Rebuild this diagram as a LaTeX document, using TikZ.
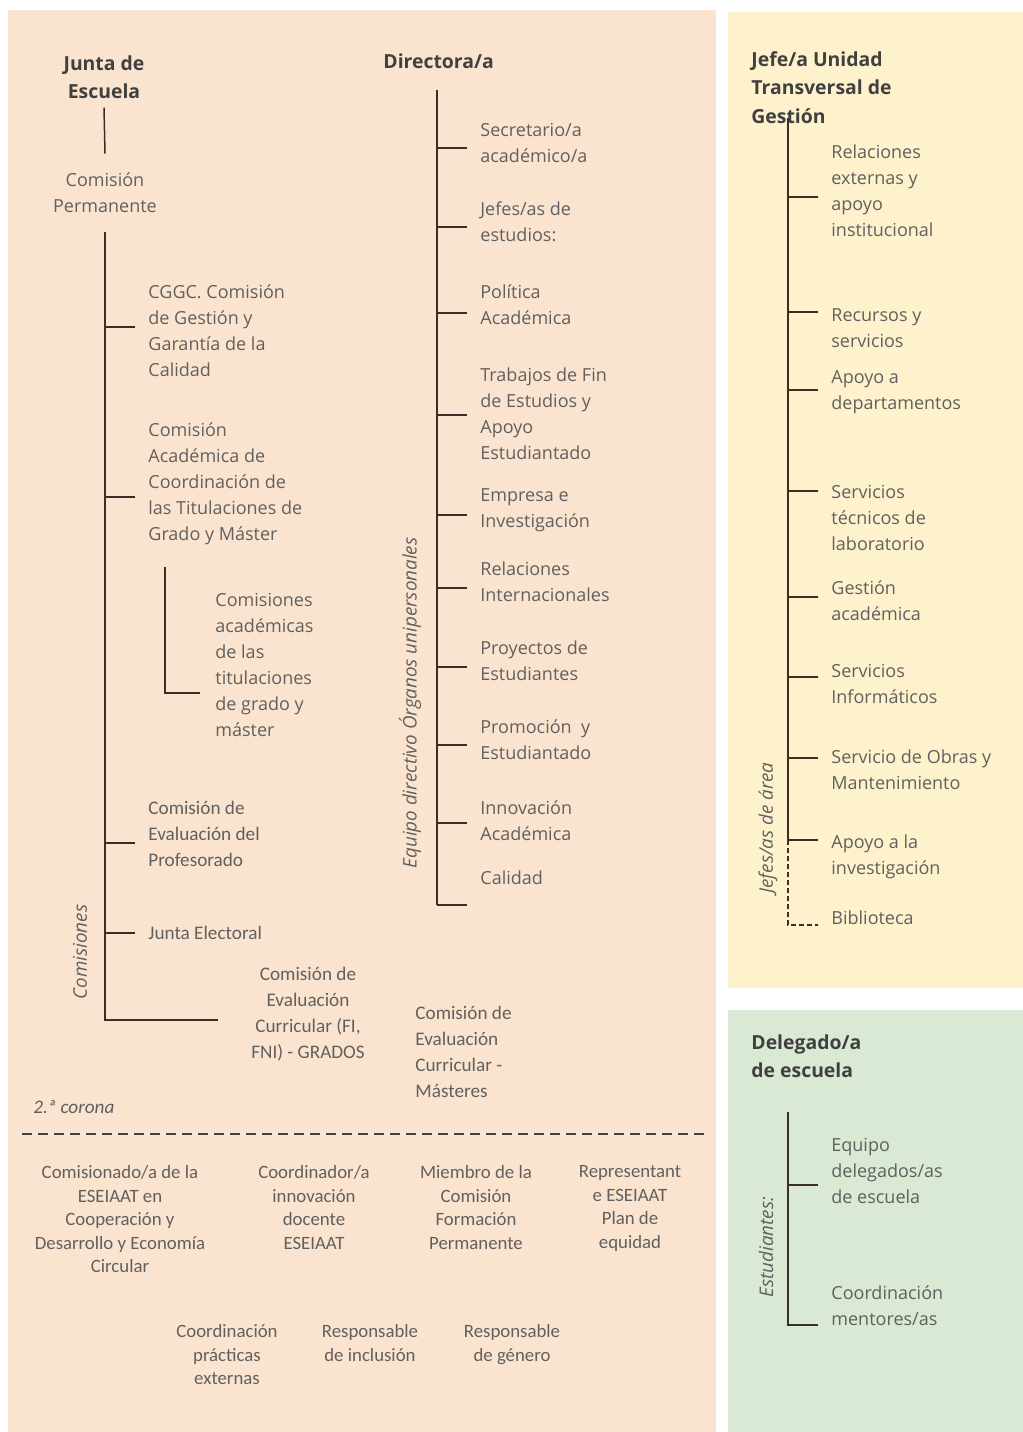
\documentclass[tikz,border=0pt]{standalone}
\usepackage{fontspec}
\setmainfont{Open Sans}
\newfontfamily\calfont{Carlito}
\usepackage{tikz}
\usetikzlibrary{positioning, calc}
\definecolor{Peach}{HTML}{FBE4CF}
\definecolor{Butter}{HTML}{FEF2CD}
\definecolor{Sage}{HTML}{D9E9D3}
\definecolor{TextGray}{HTML}{606060}
\definecolor{HeadGray}{HTML}{404040}
\definecolor{Bark}{HTML}{3B2E27}

\tikzset{
  head/.style={font=\fontsize{9.7}{14.3}\selectfont\bfseries, text=HeadGray,
               inner sep=0pt, align=left, execute at begin node=\strut},
  item/.style={font=\fontsize{9}{13}\selectfont, text=TextGray,
               inner sep=0pt, align=left, anchor=west},
  citem/.style={item, font=\calfont\fontsize{9.6}{13}\selectfont},
  low/.style={font=\calfont\fontsize{9.4}{11.8}\selectfont, text=TextGray,
              inner sep=0pt, align=center, anchor=north},
  side/.style={rotate=90, font=\fontsize{9.4}{12}\selectfont\itshape,
               text=TextGray, inner sep=0pt},
  tree/.style={draw=Bark, line width=0.75pt},
}

\begin{document}
\begin{tikzpicture}[x=0.5pt, y=-0.5pt]
    \useasboundingbox (0,0) rectangle (1023,1432);

    % Panels
    \fill[Peach] (8,10) rectangle (716,1432);
    \fill[Butter] (728,12) rectangle (1023,988);
    \fill[Sage] (728,1010) rectangle (1023,1432);

    % Junta de Escuela
    \node[head, align=center, anchor=north] (junta) at (104,55) {Junta de\\Escuela};
    \node[item, align=center, anchor=center] (cperm) at (105,193) {Comisión\\Permanente};
    \draw[tree] (junta.south) -- ([yshift=9.5pt]cperm.north);

    \coordinate (ltop) at (105,232);
    \coordinate (lend) at (218,1020);
    \draw[tree] (ltop) |- (lend);

    \node[item] (cggc) at (148,331) {CGGC. Comisión\\de Gestión y\\Garantía de la\\Calidad};
    \node[item] (caco) at (148,484) {Comisión\\Académica de\\Coordinación de\\las Titulaciones de\\Grado y Máster};
    \node[item] (csub) at (215,664.5) {Comisiones\\académicas\\de las\\titulaciones\\de grado y\\máster};
    \node[citem] (cep) at (148,834) {Comisión de\\Evaluación del\\Profesorado};
    \node[citem] (jel) at (148,933) {Junta Electoral};
    \node[citem, align=center, anchor=center] (cecg) at (308,1014) {Comisión de\\Evaluación\\Curricular (FI,\\FNI) - GRADOS};
    \node[citem] (cecm) at (415,1052) {Comisión de\\Evaluación\\Curricular -\\Másteres};

    \foreach \n/\d in {cggc/2, caco/-6.5, cep/-4.5, jel/0}
        \draw[tree] ([xshift=-6.5pt, yshift=\d pt]\n.west) -- ++(-15pt,0);
    \draw[tree] ([xshift=-25pt, yshift=48.75pt]csub.west) |- ([xshift=-7.5pt, yshift=-14.25pt]csub.west);

    \node[side] (comis) at (80,952) {Comisiones};

    % Directora/a
    \node[head, anchor=north west] (dir) at (383,48) {Directora/a};
    \coordinate (dtop) at (437,90);
    \coordinate (dbot) at (437,905);
    \draw[tree] (dtop) -- (dbot);

    \node[item] (sec) at (480,143) {Secretario/a\\académico/a};
    \node[item] (jef) at (480,222) {Jefes/as de\\estudios:};
    \node[item] (pol) at (480,305) {Política\\Académica};
    \node[item] (tfe) at (480,414) {Trabajos de Fin\\de Estudios y\\Apoyo\\Estudiantado};
    \node[item] (emp) at (480,510) {Empresa e\\Investigación};
    \node[item] (rin) at (480,582) {Relaciones\\Internacionales};
    \node[item] (pes) at (480,661) {Proyectos de\\Estudiantes};
    \node[item] (prm) at (480,740) {Promoción~ y\\Estudiantado};
    \node[item] (inn) at (480,821) {Innovación\\Académica};
    \node[item] (cal) at (480,878) {Calidad};

    \foreach \n/\d in {sec/-2.5, jef/-2.5, pol/-4, tfe/-0.5, emp/-2.5, rin/-3,
                       pes/-3, prm/-2.5, inn/-1, cal/-13.5}
        \draw[tree] ([xshift=-6.5pt, yshift=\d pt]\n.west) -- ++(-15pt,0);

    \node[side] (equipo) at (410,703) {Equipo directivo Órganos unipersonales};

    % Jefe/a Unidad Transversal de Gestion
    \node[head, anchor=north west] (jefe) at (751,51) {Jefe/a Unidad\\Transversal de\\Gestión};
    \coordinate (jtop) at (788,118);
    \coordinate (jmid) at (788,840);
    \draw[tree] (jtop) -- (jmid);

    \node[item] (rex) at (831,191) {Relaciones\\externas y\\apoyo\\institucional};
    \node[item] (rec) at (831,328) {Recursos y\\servicios};
    \node[item] (apd) at (831,392) {Apoyo a\\departamentos};
    \node[item] (stl) at (831,518) {Servicios\\técnicos de\\laboratorio};
    \node[item] (gac) at (831,601) {Gestión\\académica};
    \node[item] (sin) at (831,684) {Servicios\\Informáticos};
    \node[item] (som) at (831,770) {Servicio de Obras y\\Mantenimiento};
    \node[item] (ain) at (831,857) {Apoyo a la\\investigación};
    \node[item] (bib) at (831,918) {Biblioteca};

    \foreach \n/\d in {rex/-3, rec/8, apd/1, stl/13.5, gac/2, sin/3.5, som/6, ain/8.5}
        \draw[tree] ([xshift=-6.5pt, yshift=\d pt]\n.west) -- ++(-15pt,0);
    \draw[tree, dash pattern=on 2.5pt off 1.5pt] (jmid) |- ([xshift=-6.5pt, yshift=-3.5pt]bib.west);

    \node[side] (jarea) at (768,828) {Jefes/as de área};

    % Delegado/a de escuela
    \node[head, anchor=north west] (deleg) at (751,1034) {Delegado/a\\de escuela};
    \coordinate (etop) at (788,1112);

    \node[item] (eqd) at (831,1171) {Equipo\\delegados/as\\de escuela};
    \node[item] (cme) at (831,1306) {Coordinación\\mentores/as};

    \draw[tree] (etop) |- ([xshift=-6.5pt, yshift=-9.5pt]cme.west);
    \draw[tree] ([xshift=-6.5pt, yshift=-7pt]eqd.west) -- ++(-15pt,0);

    \node[side] (estud) at (766,1247) {Estudiantes:};

    % 2.a corona
    \node[citem, font=\calfont\fontsize{9.6}{13}\selectfont\itshape] (corona) at (33,1107) {2.ª corona};
    \coordinate (dl) at (22,1134);
    \coordinate (dr) at (706,1134);
    \draw[draw=HeadGray, line width=0.6pt, dash pattern=on 5pt off 3pt] (dl) -- (dr);

    \node[low] (cdes) at (120,1165) {Comisionado/a de la\\ESEIAAT en\\Cooperación y\\Desarrollo y Economía\\Circular};
    \node[low] (cinn) at (314,1165) {Coordinador/a\\innovación\\docente\\ESEIAAT};
    \node[low] (mfp) at (476,1165) {Miembro de la\\Comisión\\Formación\\Permanente};
    \node[low] (rpe) at (630,1165) {Representant\\e ESEIAAT\\Plan de\\equidad};
    \node[low] (cpe) at (227,1324) {Coordinación\\prácticas\\externas};
    \node[low] (rinc) at (370,1324) {Responsable\\de inclusión};
    \node[low] (rgen) at (512,1324) {Responsable\\de género};
\end{tikzpicture}
\end{document}
